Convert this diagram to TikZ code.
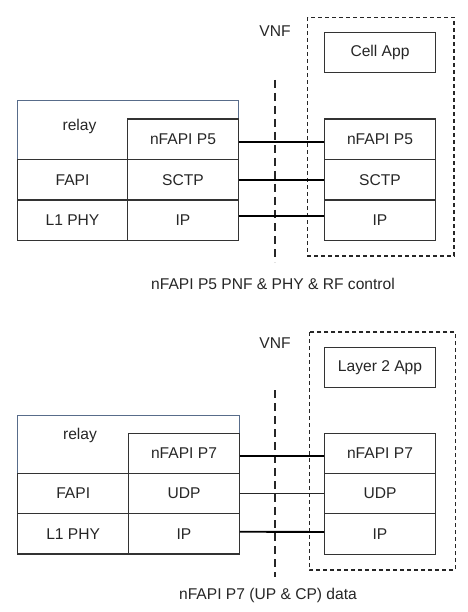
\documentclass[tikz,border=0pt]{standalone}
\usepackage{fontspec}
\setmainfont{Liberation Sans}
\definecolor{relaycol}{RGB}{88,108,138}
\begin{document}
\begin{tikzpicture}[x=1pt,y=-1pt,
  every node/.style={font=\fontsize{15.6}{17}\selectfont, text=black!85},
  layer/.style={draw=black!80, line width=1.2pt, minimum width=110.5pt, minimum height=40.5pt, inner sep=0pt, anchor=center},
  relaybox/.style={draw=relaycol, line width=0.8pt},
  link/.style={draw=black, line width=1.9pt},
  thinlink/.style={draw=black!85, line width=1.2pt},
  vnfbox/.style={draw=black!85, line width=1.2pt, dash pattern=on 4pt off 3pt},
  divider/.style={draw=black!85, line width=1.6pt, dash pattern=on 8pt off 5pt},
  lbl/.style={inner sep=0pt}]
\useasboundingbox (0,0) rectangle (467,612);
\fill[white] (0,0) rectangle (467,612);

% ---------- top ----------
\draw[vnfbox] (307.7,17.3) rectangle (454,256);
\node[lbl] (vnfA) at (275,31) {VNF};
\node[layer, minimum height=40pt] (cellapp) at (380,52.7) {Cell App};
\coordinate (dAt) at (275,80);
\coordinate (dAb) at (275,262);
\draw[divider] (dAt) -- (dAb);

\draw[relaybox] (17.3,159.3) -- (17.3,100) -- (238.3,100) -- (238.3,119);
\node[lbl] (relayA) at (79.5,126.5) {relay};
\node[layer] (p5L) at (183,139.2) {nFAPI P5};
\node[layer] (fapiA) at (72.5,179.7) {FAPI};
\node[layer] (sctpL) at (183,179.7) {SCTP};
\node[layer] (phyA) at (72.5,220.5) {L1 PHY};
\node[layer] (ipAL) at (183,220.5) {IP};

\node[layer] (p5R) at (380,139.2) {nFAPI P5};
\node[layer] (sctpR) at (380,179.7) {SCTP};
\node[layer] (ipAR) at (380,220.5) {IP};

\draw[link] ([yshift=-3.2pt]p5L.east) -- ([yshift=-3.2pt]p5R.west);
\draw[link] (sctpL.east) -- (sctpR.west);
\draw[link] ([yshift=4.5pt]ipAL.east) -- ([yshift=4.5pt]ipAR.west);

\node[lbl] (capA) at (273,283.5) {nFAPI P5 PNF \& PHY \& RF control};

% ---------- bottom ----------
\draw[vnfbox] (309.3,332) rectangle (455.3,570);
\node[lbl] (vnfB) at (275,343.5) {VNF};
\node[layer, minimum height=40pt] (l2app) at (380,367.7) {Layer 2 App};
\coordinate (dBt) at (275,390);
\coordinate (dBb) at (275,577);
\draw[divider] (dBt) -- (dBb);

\draw[relaybox] (17.7,473.3) -- (17.7,415) -- (239.3,415) -- (239.3,433.3);
\node[lbl] (relayB) at (80,435) {relay};
\node[layer, minimum width=110.6pt, minimum height=40pt] (p7L) at (184,453.3) {nFAPI P7};
\node[layer, minimum width=111pt, minimum height=40pt] (fapiB) at (73.2,493.3) {FAPI};
\node[layer, minimum width=110.6pt, minimum height=40pt] (udpL) at (184,493.3) {UDP};
\node[layer, minimum width=111pt, minimum height=40.7pt] (phyB) at (73.2,533.7) {L1 PHY};
\node[layer, minimum width=110.6pt, minimum height=40.7pt] (ipBL) at (184,533.7) {IP};

\node[layer, minimum height=40pt] (p7R) at (380,453.3) {nFAPI P7};
\node[layer, minimum height=40pt] (udpR) at (380,493.3) {UDP};
\node[layer, minimum height=41.4pt] (ipBR) at (380,534) {IP};

\draw[link] ([yshift=-2.3pt]p7L.east) -- ([yshift=-2.3pt]p7R.west);
\draw[thinlink] (udpL.east) -- (udpR.west);
\draw[link] ([yshift=2pt]ipBL.east) -- ([yshift=2pt]ipBR.west);

\node[lbl] (capB) at (268,595) {nFAPI P7 (UP \& CP) data};
\end{tikzpicture}
\end{document}
